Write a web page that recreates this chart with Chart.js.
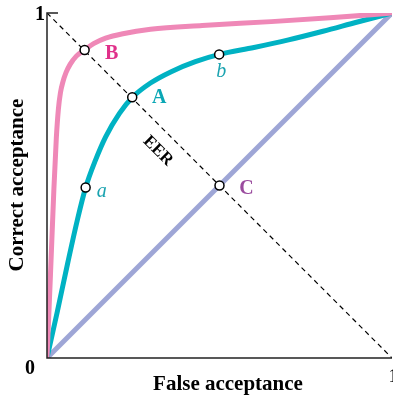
<!DOCTYPE html>
<html>
<head>
<meta charset="utf-8">
<script src="https://cdn.jsdelivr.net/npm/chart.js@4"></script>
<style>
  html, body { margin: 0; padding: 0; background: #fff; }
  #wrap { width: 393px; height: 401px; }
</style>
</head>
<body>
<div id="wrap"><canvas id="roc"></canvas></div>
<script>
// curve B (pink, the better system)
const curveBx = [0, 0.01, 0.02, 0.027, 0.033, 0.039, 0.046, 0.055, 0.067, 0.085, 0.109, 0.135, 0.17, 0.22, 0.3, 0.45, 0.65, 0.82, 1];
const curveBy = [0, 0.24, 0.49, 0.637, 0.721, 0.769, 0.8, 0.827, 0.851, 0.875, 0.893, 0.911, 0.927, 0.94, 0.953, 0.964, 0.975, 0.986, 1];

// curve A (teal)
const curveAx = [0, 0.03, 0.06, 0.088, 0.112, 0.14, 0.17, 0.21, 0.247, 0.3, 0.36, 0.43, 0.5, 0.6, 0.7, 0.8, 0.9, 1];
const curveAy = [0, 0.135, 0.275, 0.4, 0.494, 0.572, 0.641, 0.709, 0.755, 0.797, 0.83, 0.859, 0.88, 0.9, 0.922, 0.947, 0.974, 1];

// chance line C and the EER line
const chanceX = [0, 1];
const chanceY = [0, 1];
const eerX = [0, 1];
const eerY = [1, 0];

// marked points
const markNames = ["B", "A", "C", "a", "b"];
const markX = [0.109, 0.247, 0.5, 0.112, 0.499];
const markY = [0.893, 0.756, 0.5, 0.494, 0.88];

const xyPairs = (xs, ys) => xs.map((x, i) => ({ x: x, y: ys[i] }));

const serif = "'Liberation Serif', 'DejaVu Serif', serif";

// axes, tick labels and annotations
const decor = {
  id: "decor",
  afterDatasetsDraw(c) {
    const ctx = c.ctx;
    const xs = c.scales.x, ys = c.scales.y;
    const px = v => xs.getPixelForValue(v);
    const py = v => ys.getPixelForValue(v);
    ctx.save();

    // axis lines
    ctx.strokeStyle = "#222";
    ctx.lineWidth = 1.5;
    ctx.beginPath();
    ctx.moveTo(px(0) + 11, py(1));
    ctx.lineTo(px(0), py(1));
    ctx.lineTo(px(0), py(0));
    ctx.lineTo(px(1), py(0));
    ctx.stroke();

    // tick labels
    ctx.fillStyle = "#000";
    ctx.font = "bold 20px " + serif;
    ctx.textAlign = "center";
    ctx.textBaseline = "middle";
    ctx.fillText("1", px(0) - 7, py(1) + 2);
    ctx.fillText("0", px(0) - 17, py(0) + 11);
    ctx.font = "18px " + serif;
    ctx.fillText("1", px(1) + 1, py(0) + 19);

    // axis titles
    ctx.font = "bold 21px " + serif;
    ctx.fillText("False acceptance", 228, py(0) + 27);
    ctx.save();
    ctx.translate(18, 185);
    ctx.rotate(-Math.PI / 2);
    ctx.fillText("Correct acceptance", 0, 0);
    ctx.restore();

    // curve labels
    ctx.font = "bold 20px " + serif;
    ctx.fillStyle = "#e0308a";
    ctx.fillText("B", px(markX[0]) + 27, py(markY[0]) + 4);
    ctx.fillStyle = "#0aa7b5";
    ctx.fillText("A", px(markX[1]) + 27, py(markY[1]) + 1);
    ctx.fillStyle = "#9a4b9e";
    ctx.fillText("C", px(markX[2]) + 27, py(markY[2]) + 3);

    ctx.font = "italic 20px " + serif;
    ctx.fillStyle = "#1aa3b0";
    ctx.fillText("a", px(markX[3]) + 16, py(markY[3]) + 4);
    ctx.fillText("b", px(markX[4]) + 2, py(markY[4]) + 17);

    // EER label along the dashed line
    ctx.save();
    ctx.font = "bold 17px " + serif;
    ctx.fillStyle = "#000";
    ctx.translate(158, 151);
    ctx.rotate(Math.PI / 4);
    ctx.fillText("EER", 0, 0);
    ctx.restore();

    ctx.restore();
  }
};

new Chart(document.getElementById("roc"), {
  type: "scatter",
  data: {
    datasets: [
      {
        data: xyPairs(chanceX, chanceY),
        showLine: true,
        borderColor: "#9ea6d6",
        borderWidth: 5,
        pointRadius: 0,
        order: 4
      },
      {
        data: xyPairs(curveAx, curveAy),
        showLine: true,
        borderColor: "#00b2c3",
        borderWidth: 5,
        cubicInterpolationMode: "monotone",
        pointRadius: 0,
        order: 3
      },
      {
        data: xyPairs(curveBx, curveBy),
        showLine: true,
        borderColor: "#ef88b7",
        borderWidth: 5,
        cubicInterpolationMode: "monotone",
        pointRadius: 0,
        order: 2
      },
      {
        data: xyPairs(eerX, eerY),
        showLine: true,
        borderColor: "#000",
        borderWidth: 1.2,
        borderDash: [5, 4],
        pointRadius: 0,
        order: 1
      },
      {
        label: markNames.join(","),
        data: xyPairs(markX, markY),
        showLine: false,
        pointRadius: 4.5,
        pointBackgroundColor: "#fff",
        pointBorderColor: "#000",
        pointBorderWidth: 1.5,
        order: 0
      }
    ]
  },
  options: {
    responsive: true,
    maintainAspectRatio: false,
    animation: false,
    layout: { autoPadding: false, padding: { left: 47, right: 1, top: 13, bottom: 43 } },
    plugins: {
      legend: { display: false },
      tooltip: { enabled: false }
    },
    scales: {
      x: { type: "linear", min: 0, max: 1, display: false },
      y: { type: "linear", min: 0, max: 1, display: false }
    }
  },
  plugins: [decor]
});
</script>
</body>
</html>
